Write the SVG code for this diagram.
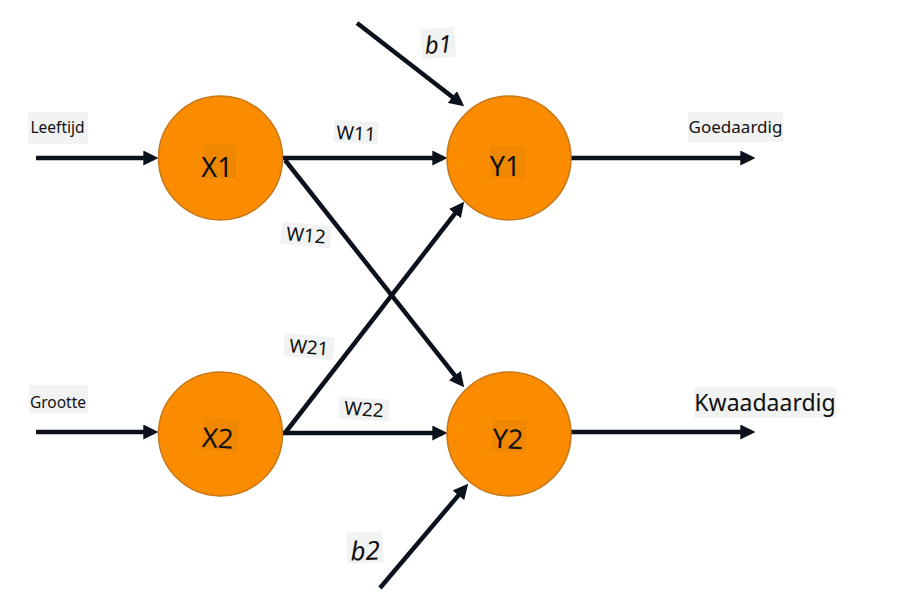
<svg xmlns="http://www.w3.org/2000/svg" width="915" height="611" viewBox="0 0 915 611">
<defs>
<style>
.node{fill:#fb8c00;stroke:#c7771a;stroke-width:1.5}
.nbg{fill:#ef8700}
.lbg{fill:#f1f2f2}
.edge{stroke:#0b121c;stroke-width:4.5;fill:none;marker-end:url(#ah)}
.t{font-family:"Noto Sans","Open Sans","DejaVu Sans",sans-serif;fill:#111;text-anchor:middle}
.n{font-size:27px}
.i{font-style:italic}
</style>
<marker id="ah" markerUnits="userSpaceOnUse" markerWidth="15" markerHeight="15" refX="10" refY="7" orient="auto" viewBox="0 0 14 14">
<path d="M0,0 L14,7 L0,14 z" fill="#0b121c"/>
</marker>
</defs>
<rect width="915" height="611" fill="#fff"/>
<g id="connectors">
<line class="edge" x1="36" y1="158" x2="154" y2="158"/>
<line class="edge" x1="36" y1="432" x2="154" y2="432"/>
<line class="edge" x1="283" y1="158" x2="443" y2="158"/>
<line class="edge" x1="283" y1="433" x2="443" y2="433"/>
<line class="edge" x1="285" y1="160" x2="461.5" y2="383.9"/>
<line class="edge" x1="285" y1="433" x2="461.5" y2="205.2"/>
<line class="edge" x1="357" y1="23" x2="460.8" y2="103.5"/>
<line class="edge" x1="380" y1="588" x2="465.4" y2="487.1"/>
<line class="edge" x1="571" y1="158" x2="751" y2="158"/>
<line class="edge" x1="571" y1="432" x2="751" y2="432"/>
</g>
<g id="labels">
<rect class="lbg" x="28" y="112" width="60" height="32"/>
<text class="t" x="57.5" y="133" font-size="15.5">Leeftijd</text>
<rect class="lbg" x="29" y="385" width="59" height="28"/>
<text class="t" x="58" y="408" font-size="15.5">Grootte</text>
<rect class="lbg" x="688" y="112" width="95" height="30"/>
<text class="t" x="735.5" y="133" font-size="17">Goedaardig</text>
<rect class="lbg" x="694" y="387" width="142" height="31"/>
<text class="t" x="765" y="411" font-size="23">Kwaadaardig</text>
<g transform="rotate(3 356 133)">
<rect class="lbg" x="334" y="121" width="44" height="22"/>
<text class="t" x="356" y="140" font-size="19">W11</text>
</g>
<g transform="rotate(5 306 235)">
<rect class="lbg" x="281" y="224" width="50" height="22"/>
<text class="t" x="306" y="242" font-size="19">W12</text>
</g>
<g transform="rotate(5 309 346)">
<rect class="lbg" x="284" y="335" width="50" height="23"/>
<text class="t" x="309" y="354" font-size="19">W21</text>
</g>
<g transform="rotate(4 364 409)">
<rect class="lbg" x="339" y="398" width="50" height="22"/>
<text class="t" x="364" y="416" font-size="19">W22</text>
</g>
<g transform="rotate(-4 438 43)">
<rect class="lbg" x="421" y="28" width="34" height="30"/>
<text class="t i" x="438" y="53" font-size="24">b1</text>
</g>
<g transform="rotate(-2 365 547)">
<rect class="lbg" x="347" y="532" width="36" height="31"/>
<text class="t i" x="365" y="560" font-size="26">b2</text>
</g>
</g>
<g id="X1">
<circle class="node" cx="220.5" cy="158" r="62"/>
<rect class="nbg" x="203" y="145" width="33" height="34"/>
<text class="t n" x="217" y="176.5">X1</text>
</g>
<g id="Y1">
<circle class="node" cx="509" cy="158" r="62"/>
<rect class="nbg" x="490" y="146" width="35" height="32"/>
<text class="t n" x="505" y="175.5">Y1</text>
</g>
<g id="X2">
<circle class="node" cx="220.5" cy="434" r="62"/>
<g transform="rotate(4 220 436)">
<rect class="nbg" x="203" y="419" width="35" height="32"/>
<text class="t n" x="218" y="448">X2</text>
</g>
</g>
<g id="Y2">
<circle class="node" cx="509" cy="434" r="62"/>
<g transform="rotate(3 509 436)">
<rect class="nbg" x="492" y="420" width="34" height="32"/>
<text class="t n" x="508" y="448.5">Y2</text>
</g>
</g>
</svg>
